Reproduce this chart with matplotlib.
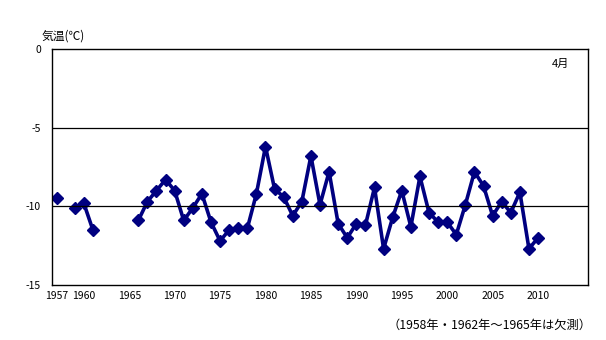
import numpy as np
import matplotlib.pyplot as plt

plt.rcParams['font.family'] = ['Noto Sans CJK JP', 'DejaVu Sans']

# 4月の気温 (NaN = 欠測)
years = list(range(1957, 2016))
temps = [
    -9.5, np.nan, -10.1, -9.8, -11.5, np.nan, np.nan, np.nan, np.nan,
    -10.9, -9.7, -9.0, -8.3, -9.0, -10.9, -10.1, -9.2, -11.0, -12.2,
    -11.5, -11.4, -11.4, -9.2, -6.2, -8.9, -9.4, -10.6, -9.7, -6.8,
    -9.9, -7.8, -11.1, -12.0, -11.1, -11.2, -8.8, -12.7, -10.7, -9.0,
    -11.3, -8.1, -10.4, -11.0, -11.0, -11.8, -9.9, -7.8, -8.7, -10.6,
    -9.7, -10.4, -9.1, -12.7, -12.0,
]
temps = temps + [np.nan] * (len(years) - len(temps))
tick_years = [1957, 1960, 1965, 1970, 1975, 1980, 1985, 1990, 1995, 2000, 2005, 2010]
y_ticks = [0, -5, -10, -15]

fig = plt.figure(figsize=(6.06, 3.40), dpi=100)
ax = fig.add_axes([52 / 606, 1 - 285 / 340, 536 / 606, 236 / 340])

x = np.arange(len(years))
ax.plot(x, temps, color='#000080', linewidth=2.6, marker='D', markersize=6.5,
        markerfacecolor='#000080', markeredgecolor='#000080')

ax.set_xlim(-0.5, len(years) - 0.5)
ax.set_ylim(-15, 0)
ax.set_yticks(y_ticks)
ax.set_yticklabels([str(v) for v in y_ticks])
ax.set_xticks([years.index(y) for y in tick_years])
ax.set_xticklabels([str(y) for y in tick_years])
ax.tick_params(axis='both', length=0, labelsize=7.5)
ax.tick_params(axis='y', pad=8)
ax.tick_params(axis='x', pad=4)
for v in [-5, -10]:
    ax.axhline(v, color='black', linewidth=0.9)
for s in ax.spines.values():
    s.set_color('black')
    s.set_linewidth(1.0)

fig.text(42 / 606, 1 - 36 / 340, '気温(℃)', fontsize=8.5, va='center', ha='left')
ax.text(0.965, 0.96, '4月', transform=ax.transAxes, fontsize=8, ha='right', va='top')
fig.text(592 / 606, 1 - 325 / 340, '（1958年・1962年～1965年は欠測）', fontsize=8.8,
         ha='right', va='center')

fig.savefig('out.png', dpi=100)
